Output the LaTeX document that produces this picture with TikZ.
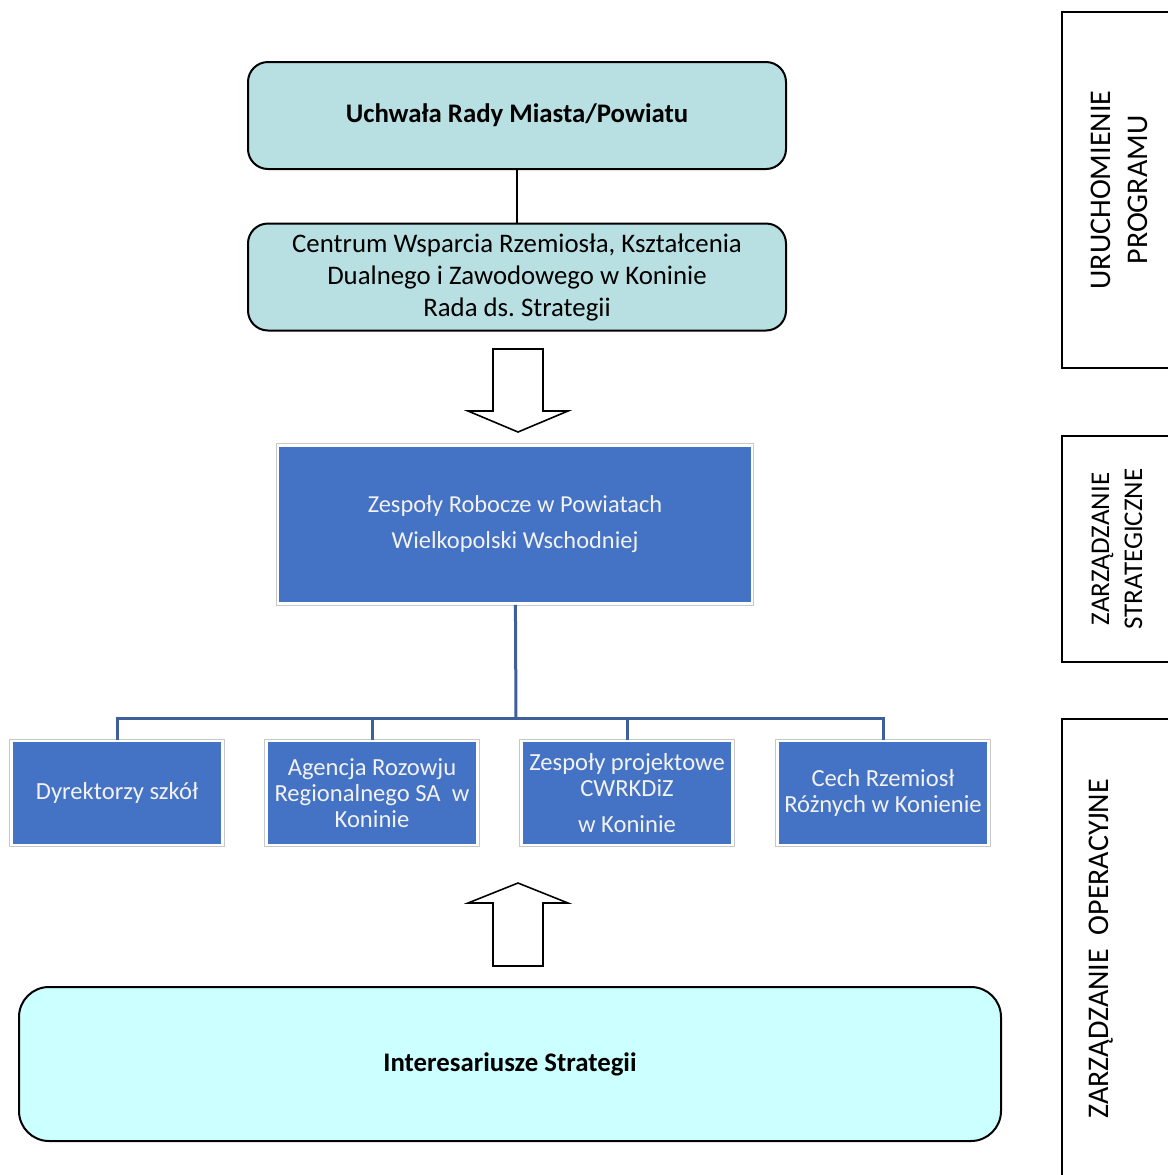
\documentclass[tikz,border=0pt]{standalone}
\usepackage{fontspec}
\setmainfont{Carlito}
\frenchspacing
\usetikzlibrary{positioning}
\definecolor{tealbox}{HTML}{B8DFE2}
\definecolor{cyanbox}{HTML}{CCFFFF}
\definecolor{bluebox}{HTML}{4472C4}
\definecolor{bluetext}{HTML}{F2F2F2}
\definecolor{bluelink}{HTML}{3E5E9C}
\definecolor{frame}{HTML}{C8C8C8}

\begin{document}
\begin{tikzpicture}[x=0.5pt, y=-0.5pt,
  topbox/.style={draw, line width=1pt, rounded corners=10pt, fill=tealbox,
    minimum width=269pt, minimum height=53.5pt, align=center,
    font=\fontsize{13.4}{16}\selectfont},
  bluenode/.style={fill=bluebox, draw=white, line width=1.4pt,
    preaction={draw=frame, line width=2.4pt}, text=bluetext, align=center},
  smallbox/.style={bluenode, minimum width=105.5pt, minimum height=52pt,
    font=\fontsize{12.3}{13}\selectfont},
  link/.style={draw=bluelink, line width=1.5pt},
  blockarrow/.style={draw, line width=0.8pt, fill=white, line join=miter},
  sidetext/.style={rotate=90, align=center, font=\fontsize{15}{18.5}\selectfont}]

\useasboundingbox (0,0) rectangle (1168,1175);

% upper part
\node[topbox] (uchwala) at (517,115.5) {\textbf{Uchwała Rady Miasta/Powiatu}};
\node[topbox] (centrum) at (517,277) {Centrum Wsparcia Rzemiosła, Kształcenia\\
  Dualnego i Zawodowego w Koninie\\Rada ds. Strategii};
\draw[line width=1pt] (uchwala) -- (centrum);

\draw[blockarrow] (493,349) -- (543,349) -- (543,411) -- (568,411) -- (518,432)
  -- (468,411) -- (493,411) -- cycle;

% working teams
\node[bluenode, minimum width=237pt, minimum height=79pt,
  font=\fontsize{12.2}{18}\selectfont] (robocze) at (515,524.5)
  {Zespoły Robocze w Powiatach\\Wielkopolski Wschodniej};

\node[smallbox] (dyrektorzy) at (117,793) {Dyrektorzy szkół};
\node[smallbox] (agencja) at (372,793) {Agencja Rozowju\\Regionalnego SA~~w\\Koninie};
\node[smallbox] (projektowe) at (627,793) {Zespoły projektowe\\CWRKDiZ\\[5pt]w Koninie};
\node[smallbox] (cech) at (883,793) {Cech Rzemiosł\\Różnych w Konienie};

\coordinate (bus) at (516,718);
\draw[link] (robocze) -- (bus);
\draw[link] (dyrektorzy.north) |- (bus) -| (cech.north);
\draw[link] (agencja.north) -- (agencja.north |- bus);
\draw[link] (projektowe.north) -- (projektowe.north |- bus);

\draw[blockarrow] (493,966) -- (543,966) -- (543,903) -- (568,903) -- (518,883)
  -- (468,903) -- (493,903) -- cycle;

% stakeholders
\node[draw, line width=1pt, rounded corners=15pt, fill=cyanbox,
  minimum width=491pt, minimum height=77pt,
  font=\fontsize{13.4}{16}\selectfont\bfseries] (interesariusze) at (510,1064)
  {Interesariusze Strategii};

% side labels
\draw[line width=1pt] (1172,12) -- (1062,12) -- (1062,368) -- (1172,368);
\draw[line width=1pt] (1172,436) -- (1062,436) -- (1062,662) -- (1172,662);
\draw[line width=1pt] (1172,719) -- (1062,719) -- (1062,1180);
\node[sidetext] (uruchomienie) at (1119,190) {URUCHOMIENIE\\PROGRAMU};
\node[sidetext, font=\fontsize{13.5}{16.5}\selectfont] (strategiczne) at (1117,549)
  {ZARZĄDZANIE\\STRATEGICZNE};
\node[sidetext] (operacyjne) at (1101,949) {ZARZĄDZANIE~~OPERACYJNE};

\end{tikzpicture}
\end{document}
